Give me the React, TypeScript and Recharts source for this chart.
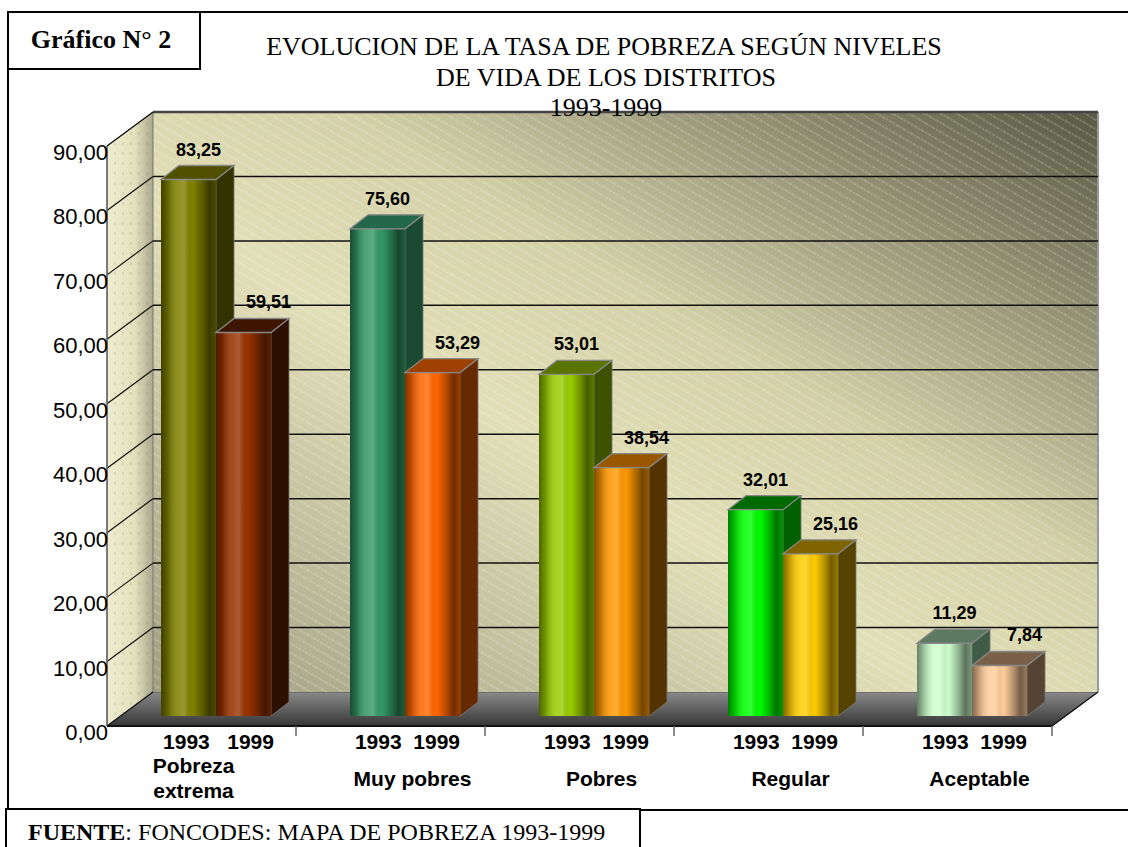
import React from 'react';
import { BarChart, Bar, XAxis, YAxis, ReferenceArea, LabelList } from 'recharts';

// data
const categories = ['Pobreza\nextrema', 'Muy pobres', 'Pobres', 'Regular', 'Aceptable'];
const values1993 = [83.25, 75.6, 53.01, 32.01, 11.29];
const values1999 = [59.51, 53.29, 38.54, 25.16, 7.84];
const yearLabels = ['1993   1999', '1993  1999', '1993  1999', '1993  1999', '1993  1999'];
const yTicks = [0, 10, 20, 30, 40, 50, 60, 70, 80, 90];
const Y_MAX = 90;

const data = categories.map((name, i) => ({
  name,
  y1993: values1993[i],
  y1999: values1999[i],
  years: yearLabels[i],
}));

// bar colours (front / side / top)
const colors1993 = [
  { front: '#808000', side: '#333300', top: '#505000' },
  { front: '#339966', side: '#1a4a32', top: '#23684a' },
  { front: '#99cc00', side: '#3d5200', top: '#5a7400' },
  { front: '#00ff00', side: '#006000', top: '#006a00' },
  { front: '#ccffcc', side: '#3f5c46', top: '#5c7a62' },
];
const colors1999 = [
  { front: '#993300', side: '#2e1000', top: '#3e1600' },
  { front: '#ff6600', side: '#662900', top: '#a04000' },
  { front: '#ff9900', side: '#553300', top: '#995800' },
  { front: '#ffcc00', side: '#554400', top: '#806400' },
  { front: '#ffcc99', side: '#554433', top: '#7a6048' },
];

const W = 1128;
const H = 847;
const MARGIN = { top: 136, right: 62, bottom: 31, left: 61 };
const Y_AXIS_W = 60;
const X_AXIS_H = 100;
const PLOT_LEFT = MARGIN.left + Y_AXIS_W;
const PLOT_BOTTOM = H - MARGIN.bottom - X_AXIS_H;
const FRONT = { dx: -14, dy: 10 };
const BACK = { dx: 32, dy: -24 };
const BAR_DEPTH = { dx: 18, dy: -14 };

const SANS = '"Liberation Sans", Arial, sans-serif';
const SERIF = '"Liberation Serif", "Times New Roman", serif';

const fmt = (v: number) => v.toFixed(2).replace('.', ',');

const Walls = (props: any) => {
  const { x, y, width: w, height: h } = props;
  if (x == null || w == null) return null;
  const fx = x + FRONT.dx;
  const bx = x + BACK.dx;
  const bottom = y + h;
  const yOf = (t: number) => y + h * (1 - t / Y_MAX);
  const n = categories.length;
  return (
    <g>
      {/* floor */}
      <polygon
        points={`${fx},${bottom + FRONT.dy} ${bx},${bottom + BACK.dy} ${bx + w},${bottom + BACK.dy} ${fx + w},${bottom + FRONT.dy}`}
        fill="url(#floorGrad)"
        stroke="#555"
      />
      {/* back wall */}
      <rect x={bx} y={y + BACK.dy} width={w} height={h} fill="url(#backGrad)" />
      <rect x={bx} y={y + BACK.dy} width={w} height={h} fill="url(#hatch)" />
      <line x1={bx + w} x2={bx + w} y1={y + BACK.dy} y2={bottom + BACK.dy} stroke="#999" strokeWidth={2} />
      {/* left wall */}
      <polygon
        points={`${fx},${y + FRONT.dy} ${bx},${y + BACK.dy} ${bx},${bottom + BACK.dy} ${fx},${bottom + FRONT.dy}`}
        fill="url(#leftGrad)"
      />
      <polygon
        points={`${fx},${y + FRONT.dy} ${bx},${y + BACK.dy} ${bx},${bottom + BACK.dy} ${fx},${bottom + FRONT.dy}`}
        fill="url(#dots)"
        stroke="#777"
      />
      {/* gridlines */}
      {yTicks.filter((t) => t > 0).map((t) => (
        <line key={`g${t}`} x1={bx} x2={bx + w} y1={yOf(t) + BACK.dy} y2={yOf(t) + BACK.dy}
          stroke={t === Y_MAX ? '#444' : '#111'} strokeWidth={t === Y_MAX ? 2.5 : 1.5} />
      ))}
      {yTicks.map((t) => (
        <line key={`d${t}`} x1={fx} y1={yOf(t) + FRONT.dy} x2={bx} y2={yOf(t) + BACK.dy} stroke="#111" strokeWidth={1.2} />
      ))}
      {/* front axis line and floor edge */}
      <line x1={fx} x2={fx} y1={y + FRONT.dy} y2={bottom + FRONT.dy} stroke="#666" strokeWidth={1.5} />
      <line x1={fx} x2={fx + w} y1={bottom + FRONT.dy} y2={bottom + FRONT.dy} stroke="#111" strokeWidth={2} />
      <line x1={fx + w} y1={bottom + FRONT.dy} x2={bx + w} y2={bottom + BACK.dy} stroke="#111" strokeWidth={1.2} />
      {categories.map((c, i) => (
        <line key={`t${i}`} x1={fx + ((i + 1) * w) / n} x2={fx + ((i + 1) * w) / n}
          y1={bottom + FRONT.dy} y2={bottom + FRONT.dy + 10} stroke="#666" strokeWidth={1.5} />
      ))}
    </g>
  );
};

const make3DBar = (palette: typeof colors1993) => (props: any) => {
  const { x, y, width: w, height: h, index } = props;
  if (w == null || h == null) return null;
  const c = palette[index];
  const { dx, dy } = BAR_DEPTH;
  return (
    <g>
      <polygon
        points={`${x + w},${y} ${x + w + dx},${y + dy} ${x + w + dx},${y + h + dy} ${x + w},${y + h}`}
        fill={c.side}
        stroke="#777"
        strokeWidth={0.8}
      />
      <rect x={x} y={y} width={w} height={h} fill={c.front} />
      <rect x={x} y={y} width={w} height={h} fill="url(#cyl)" />
      <polygon
        points={`${x},${y} ${x + dx},${y + dy} ${x + w + dx},${y + dy} ${x + w},${y}`}
        fill={c.top}
        stroke="#888"
        strokeWidth={1.3}
      />
    </g>
  );
};

const valueLabel = (shift: number) => (props: any) => {
  const { x, y, width, value } = props;
  return (
    <text x={x + width / 2 + shift} y={y - 24} textAnchor="middle"
      fontFamily={SANS} fontWeight="bold" fontSize={18} fill="#000">
      {fmt(value)}
    </text>
  );
};

const ValueTick = (props: any) => {
  const { y, payload } = props;
  return (
    <text x={PLOT_LEFT + FRONT.dx + 1} y={y + FRONT.dy + 14} textAnchor="end"
      fontFamily={SANS} fontSize={22} fill="#000">
      {fmt(payload.value)}
    </text>
  );
};

const CategoryTick = (props: any) => {
  const { x, payload, index } = props;
  const lines = String(payload.value).split('\n');
  const nameX = x + (lines.length > 1 ? -22 : 8);
  return (
    <g>
      <text x={x + 3} y={PLOT_BOTTOM + 33} textAnchor="middle" fontFamily={SANS}
        fontWeight="bold" fontSize={21} fill="#000" style={{ whiteSpace: 'pre' }}>
        {yearLabels[index]}
      </text>
      {lines.map((ln, i) => (
        <text key={i} x={nameX} y={PLOT_BOTTOM + (lines.length > 1 ? 57 + i * 25 : 70)}
          textAnchor="middle" fontFamily={SANS} fontWeight="bold" fontSize={21} fill="#000">
          {ln}
        </text>
      ))}
    </g>
  );
};

export default function App() {
  return (
    <div style={{ position: 'absolute', left: 0, top: 0, width: W, height: H, overflow: 'hidden', background: '#fff' }}>
      <svg width={0} height={0} style={{ position: 'absolute' }}>
        <defs>
          <linearGradient id="backGrad" x1="0" y1="1" x2="1" y2="0">
            <stop offset="0" stopColor="#a09e82" />
            <stop offset="0.42" stopColor="#e2dfb8" />
            <stop offset="0.6" stopColor="#d4d1a8" />
            <stop offset="1" stopColor="#585844" />
          </linearGradient>
          <pattern id="hatch" patternUnits="userSpaceOnUse" width="8" height="8" patternTransform="rotate(30)">
            <line x1="0" y1="4" x2="8" y2="4" stroke="#fff" strokeOpacity="0.35" strokeWidth="1" strokeDasharray="2 1" />
          </pattern>
          <linearGradient id="leftGrad" x1="0" y1="0" x2="1" y2="0">
            <stop offset="0" stopColor="#efedd0" />
            <stop offset="0.6" stopColor="#e3e0bc" />
            <stop offset="1" stopColor="#aaa88c" />
          </linearGradient>
          <pattern id="dots" patternUnits="userSpaceOnUse" width="8" height="10">
            <line x1="3" y1="2" x2="3" y2="5" stroke="#8a8870" strokeOpacity="0.35" strokeWidth="1" />
          </pattern>
          <linearGradient id="floorGrad" x1="0" y1="0" x2="0" y2="1">
            <stop offset="0" stopColor="#8a8a8a" />
            <stop offset="1" stopColor="#363636" />
          </linearGradient>
          <linearGradient id="cyl" x1="0" y1="0" x2="1" y2="0">
            <stop offset="0" stopColor="#000" stopOpacity="0.5" />
            <stop offset="0.12" stopColor="#000" stopOpacity="0.25" />
            <stop offset="0.3" stopColor="#fff" stopOpacity="0.12" />
            <stop offset="0.42" stopColor="#fff" stopOpacity="0.2" />
            <stop offset="0.58" stopColor="#000" stopOpacity="0" />
            <stop offset="0.76" stopColor="#000" stopOpacity="0.3" />
            <stop offset="0.88" stopColor="#000" stopOpacity="0.55" />
            <stop offset="1" stopColor="#000" stopOpacity="0.4" />
          </linearGradient>
        </defs>
      </svg>

      <div style={{ position: 'absolute', left: 0, top: 0 }}>
        <BarChart width={W} height={H} data={data} margin={MARGIN} barCategoryGap={40} barGap={0}>
          <ReferenceArea y1={0} y2={Y_MAX} shape={Walls} ifOverflow="visible" zIndex={-10} />
          <XAxis dataKey="name" height={X_AXIS_H} axisLine={false} tickLine={false} interval={0} tick={CategoryTick} />
          <YAxis type="number" domain={[0, Y_MAX]} ticks={yTicks} width={Y_AXIS_W} axisLine={false}
            tickLine={false} interval={0} tick={ValueTick} />
          <Bar dataKey="y1993" shape={make3DBar(colors1993)} isAnimationActive={false}>
            <LabelList dataKey="y1993" content={valueLabel(10)} />
          </Bar>
          <Bar dataKey="y1999" shape={make3DBar(colors1999)} isAnimationActive={false}>
            <LabelList dataKey="y1999" content={valueLabel(25)} />
          </Bar>
        </BarChart>
      </div>

      <svg width={W} height={H} style={{ position: 'absolute', left: 0, top: 0, pointerEvents: 'none' }}>
        <rect x={8} y={12} width={1200} height={798} fill="none" stroke="#000" strokeWidth={2} />
        <rect x={8} y={12} width={192} height={57} fill="#fff" stroke="#000" strokeWidth={2} />
        <text x={101} y={48} textAnchor="middle" fontFamily={SERIF} fontWeight="bold" fontSize={26}>
          Gráfico N° 2
        </text>
        <g fontFamily={SERIF} fontSize={26} textAnchor="middle" fill="#000">
          <text x={604} y={55}>EVOLUCION DE LA TASA DE POBREZA SEGÚN NIVELES</text>
          <text x={606} y={86}>DE VIDA DE LOS DISTRITOS</text>
          <text x={606} y={116}>1993-1999</text>
        </g>
        <rect x={6} y={809} width={634} height={60} fill="#fff" stroke="#000" strokeWidth={2} />
        <text x={28} y={840} fontFamily={SERIF} fontSize={24}>
          <tspan fontWeight="bold">FUENTE</tspan>: FONCODES: MAPA DE POBREZA 1993-1999
        </text>
      </svg>
    </div>
  );
}
